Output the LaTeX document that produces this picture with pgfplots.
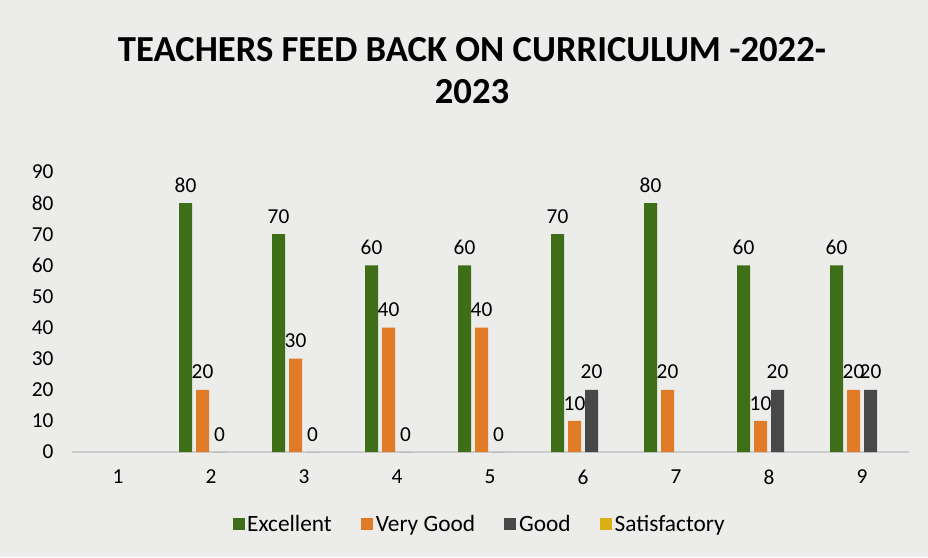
\documentclass[border=0pt]{standalone}
\usepackage{pgfplots}
\pgfplotsset{compat=1.18}
\usepackage{fontspec}
\setmainfont{Carlito}
\definecolor{bgc}{RGB}{236,236,234}
\definecolor{cgreen}{RGB}{62,110,24}
\definecolor{corange}{RGB}{224,124,40}
\definecolor{cgray}{RGB}{72,72,72}
\definecolor{cyellow}{RGB}{220,176,20}
\begin{document}
\begin{tikzpicture}
\fill[bgc, use as bounding box] (0,0) rectangle (696pt,417.75pt);
\node[font=\fontsize{27.5}{32}\selectfont\bfseries] at (354pt,380.25pt) {TEACHERS FEED BACK ON CURRICULUM -2022-};
\node[font=\fontsize{27.5}{32}\selectfont\bfseries] at (354pt,348.75pt) {2023};
\begin{axis}[
  at={(53.625pt,78.75pt)}, anchor=south west,
  scale only axis, width=627.75pt, height=210pt,
  xmin=0.5, xmax=9.5, ymin=0, ymax=90,
  xtick={1,...,9}, ytick={0,10,...,90},
  /pgf/number format/assume math mode=true,
  axis x line*=bottom, axis y line*=left,
  y axis line style={draw=none},
  x axis line style={draw=black!20, line width=0.8pt},
  major tick length=0pt,
  ticklabel style={font=\fontsize{16}{18}\selectfont},
  yticklabel style={xshift=-10pt},
  xticklabel style={yshift=-10pt},
  ybar, bar width=9.75pt,
  nodes near coords,
  every node near coord/.append style={font=\fontsize{16}{18}\selectfont, black, yshift=4.5pt},
  legend style={at={(0.488,-0.257)}, anchor=center, draw=none, fill=none,
    legend columns=4, font=\fontsize{17.5}{20}\selectfont,
    /tikz/every even column/.append style={column sep=20pt}},
  legend image code/.code={\fill[#1] (0pt,-4.5pt) rectangle (9pt,4.5pt);},
]
\addplot[fill=cgreen, draw=none, bar shift=-19.125pt] coordinates {(2,80) (3,70) (4,60) (5,60) (6,70) (7,80) (8,60) (9,60)};
\addlegendentry{Excellent}
\addplot[fill=corange, draw=none, bar shift=-6.375pt] coordinates {(2,20) (3,30) (4,40) (5,40) (6,10) (7,20) (8,10) (9,20)};
\addlegendentry{Very Good}
\addplot[fill=cgray, draw=none, bar shift=6.375pt] coordinates {(2,0) (3,0) (4,0) (5,0) (6,20) (8,20) (9,20)};
\addlegendentry{Good}
\addlegendimage{fill=cyellow, draw=none}
\addlegendentry{Satisfactory}
\end{axis}
\end{tikzpicture}
\end{document}
